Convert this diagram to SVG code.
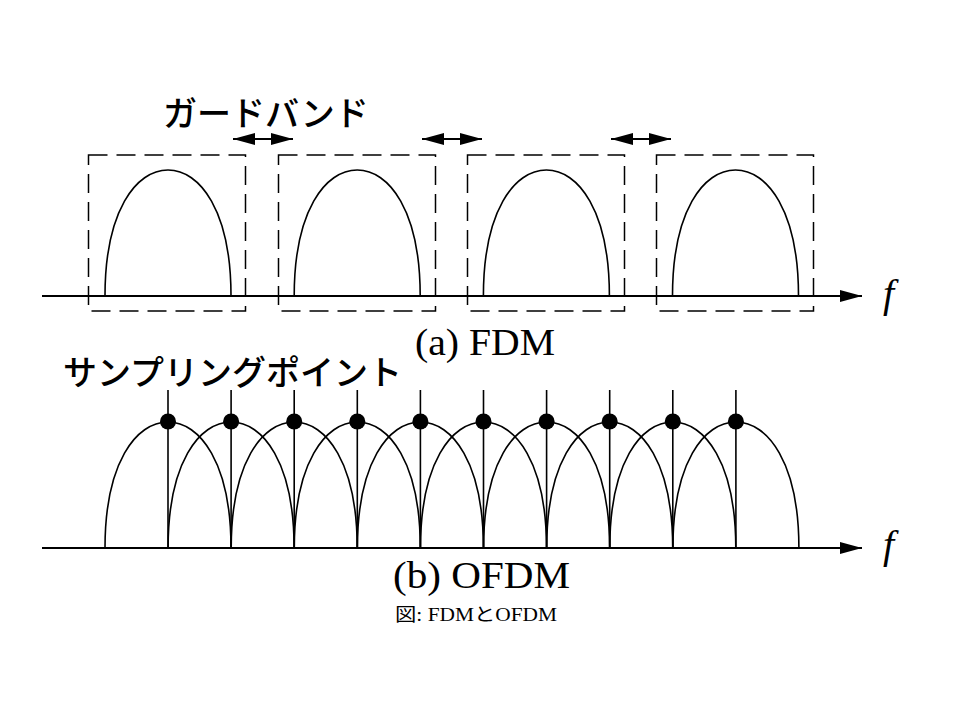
<svg xmlns="http://www.w3.org/2000/svg" width="960" height="720" viewBox="0 0 960 720">
<style>
.ln{fill:none;stroke:#000;stroke-width:2}
.crv{fill:none;stroke:#000;stroke-width:1.6}
.box{fill:none;stroke:#000;stroke-width:1.5;stroke-dasharray:19 9}
.jp{font-family:"Noto Sans CJK JP","Noto Sans CJK SC",sans-serif;font-size:34px;font-weight:500;fill:#000}
.tm{font-family:"Liberation Serif","Times New Roman",serif;fill:#000}
.dot{fill:#000}
</style>
<defs>
<marker id="ah" viewBox="0 0 22 12" refX="22" refY="6" markerWidth="22" markerHeight="12" markerUnits="userSpaceOnUse" orient="auto-start-reverse">
<path d="M0,0 L22,6 L0,12 Z" fill="#000"/>
</marker>
<path id="bump" class="crv" d="M0,0 C0,-85 31,-126 63,-126 C95,-126 126,-85 126,0"/>
</defs>
<rect width="960" height="720" fill="#fff"/>

<g id="fdm">
<g id="fdm-axis"><line class="ln" x1="42" y1="296" x2="862" y2="296" marker-end="url(#ah)"/></g>
<g id="band1"><rect class="box" x="88.5" y="155" width="157" height="156"/><use href="#bump" x="105" y="296"/></g>
<g id="band2"><rect class="box" x="278.5" y="155" width="157" height="156"/><use href="#bump" x="294.2" y="296"/></g>
<g id="band3"><rect class="box" x="467.5" y="155" width="157" height="156"/><use href="#bump" x="483.4" y="296"/></g>
<g id="band4"><rect class="box" x="656.5" y="155" width="157" height="156"/><use href="#bump" x="672.5" y="296"/></g>
<g id="guard-label"><text class="jp" x="163" y="126">ガードバンド</text></g>
<text class="tm" x="883" y="307" font-size="40" font-style="italic">f</text>
<text class="tm" x="415" y="355" font-size="37" textLength="140" lengthAdjust="spacingAndGlyphs">(a) FDM</text>
</g>

<g id="connectors">
<line class="ln" x1="233" y1="139" x2="293" y2="139" marker-start="url(#ah)" marker-end="url(#ah)"/>
<line class="ln" x1="422" y1="139" x2="482" y2="139" marker-start="url(#ah)" marker-end="url(#ah)"/>
<line class="ln" x1="611" y1="139" x2="671" y2="139" marker-start="url(#ah)" marker-end="url(#ah)"/>
</g>

<g id="ofdm">
<g id="ofdm-axis"><line class="ln" x1="42" y1="548" x2="862" y2="548" marker-end="url(#ah)"/></g>
<g id="subcarriers">
<use href="#bump" x="105" y="548"/>
<use href="#bump" x="168.1" y="548"/>
<use href="#bump" x="231.2" y="548"/>
<use href="#bump" x="294.3" y="548"/>
<use href="#bump" x="357.4" y="548"/>
<use href="#bump" x="420.5" y="548"/>
<use href="#bump" x="483.6" y="548"/>
<use href="#bump" x="546.7" y="548"/>
<use href="#bump" x="609.8" y="548"/>
<use href="#bump" x="672.9" y="548"/>
</g>
<g id="sampling-points">
<line class="crv" x1="168" y1="390" x2="168" y2="548"/><circle class="dot" cx="168" cy="421.5" r="8"/>
<line class="crv" x1="231.1" y1="390" x2="231.1" y2="548"/><circle class="dot" cx="231.1" cy="421.5" r="8"/>
<line class="crv" x1="294.2" y1="390" x2="294.2" y2="548"/><circle class="dot" cx="294.2" cy="421.5" r="8"/>
<line class="crv" x1="357.3" y1="390" x2="357.3" y2="548"/><circle class="dot" cx="357.3" cy="421.5" r="8"/>
<line class="crv" x1="420.4" y1="390" x2="420.4" y2="548"/><circle class="dot" cx="420.4" cy="421.5" r="8"/>
<line class="crv" x1="483.5" y1="390" x2="483.5" y2="548"/><circle class="dot" cx="483.5" cy="421.5" r="8"/>
<line class="crv" x1="546.6" y1="390" x2="546.6" y2="548"/><circle class="dot" cx="546.6" cy="421.5" r="8"/>
<line class="crv" x1="609.7" y1="390" x2="609.7" y2="548"/><circle class="dot" cx="609.7" cy="421.5" r="8"/>
<line class="crv" x1="672.8" y1="390" x2="672.8" y2="548"/><circle class="dot" cx="672.8" cy="421.5" r="8"/>
<line class="crv" x1="735.9" y1="390" x2="735.9" y2="548"/><circle class="dot" cx="735.9" cy="421.5" r="8"/>
</g>
<g id="sampling-label"><text class="jp" x="63" y="385">サンプリングポイント</text></g>
<text class="tm" x="883" y="558" font-size="40" font-style="italic">f</text>
<text class="tm" x="393" y="588" font-size="37" textLength="177" lengthAdjust="spacingAndGlyphs">(b) OFDM</text>
</g>

<g id="caption"><text x="395" y="621" font-size="18" textLength="162" lengthAdjust="spacingAndGlyphs" font-family="'Liberation Serif','Noto Sans CJK JP',serif">図: FDMとOFDM</text></g>
</svg>
